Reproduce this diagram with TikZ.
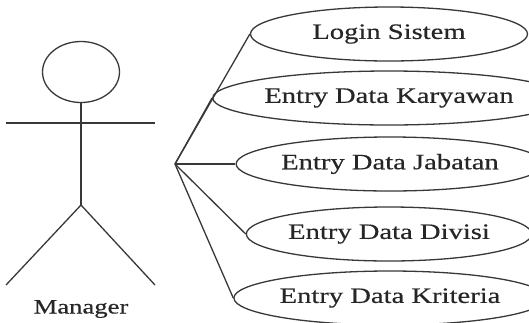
\documentclass[tikz,border=0pt]{standalone}
\usepackage{fontspec}
\setmainfont{Liberation Serif}[FakeStretch=1.3,FakeBold=0.4]
\usetikzlibrary{shapes.geometric}
\begin{document}
\begin{tikzpicture}[x=1pt,y=-1pt,
  ln/.style={line width=1.3pt, draw=black!78},
  uc/.style={ln, ellipse, minimum width=277pt, minimum height=54pt, inner sep=0pt, text=black!85, font=\fontsize{22}{24}\selectfont},
  headbox/.style={ln, ellipse, minimum width=77pt, minimum height=61pt, inner sep=0pt},
  lbl/.style={text=black!85, font=\fontsize{20.5}{23}\selectfont, inner sep=0pt}]
\useasboundingbox (0,0) rectangle (529,322);
\fill[white] (0,0) rectangle (529,322);
% use cases
\node[uc] (login) at (389,34) {Login Sistem};
\node[uc] (kary) at (389,98) {Entry Data Karyawan};
\node[uc] (jab) at (390,164) {Entry Data Jabatan};
\node[uc] (div) at (389,234) {Entry Data Divisi};
\node[uc] (krit) at (390,298) {Entry Data Kriteria};
% actor
\node[headbox] (head) at (81,72) {};
\coordinate (hip) at (81,205);
\coordinate (armL) at (6,123);
\coordinate (armR) at (155,123);
\coordinate (legL) at (6,285);
\coordinate (legR) at (155,285);
\draw[ln] (head.south) -- (hip);
\draw[ln] (armL) -- (armR);
\draw[ln] (legL) -- (hip) -- (legR);
\node[lbl] (mgr) at (81,309) {Manager};
% connectors
\coordinate (j) at (175,164);
\draw[ln] (j) -- (login.west);
\draw[ln] (j) -- (kary.west);
\draw[ln] (j) -- (jab.west);
\draw[ln] (j) -- (div.west);
\draw[ln] (j) -- (krit.west);
\end{tikzpicture}
\end{document}
